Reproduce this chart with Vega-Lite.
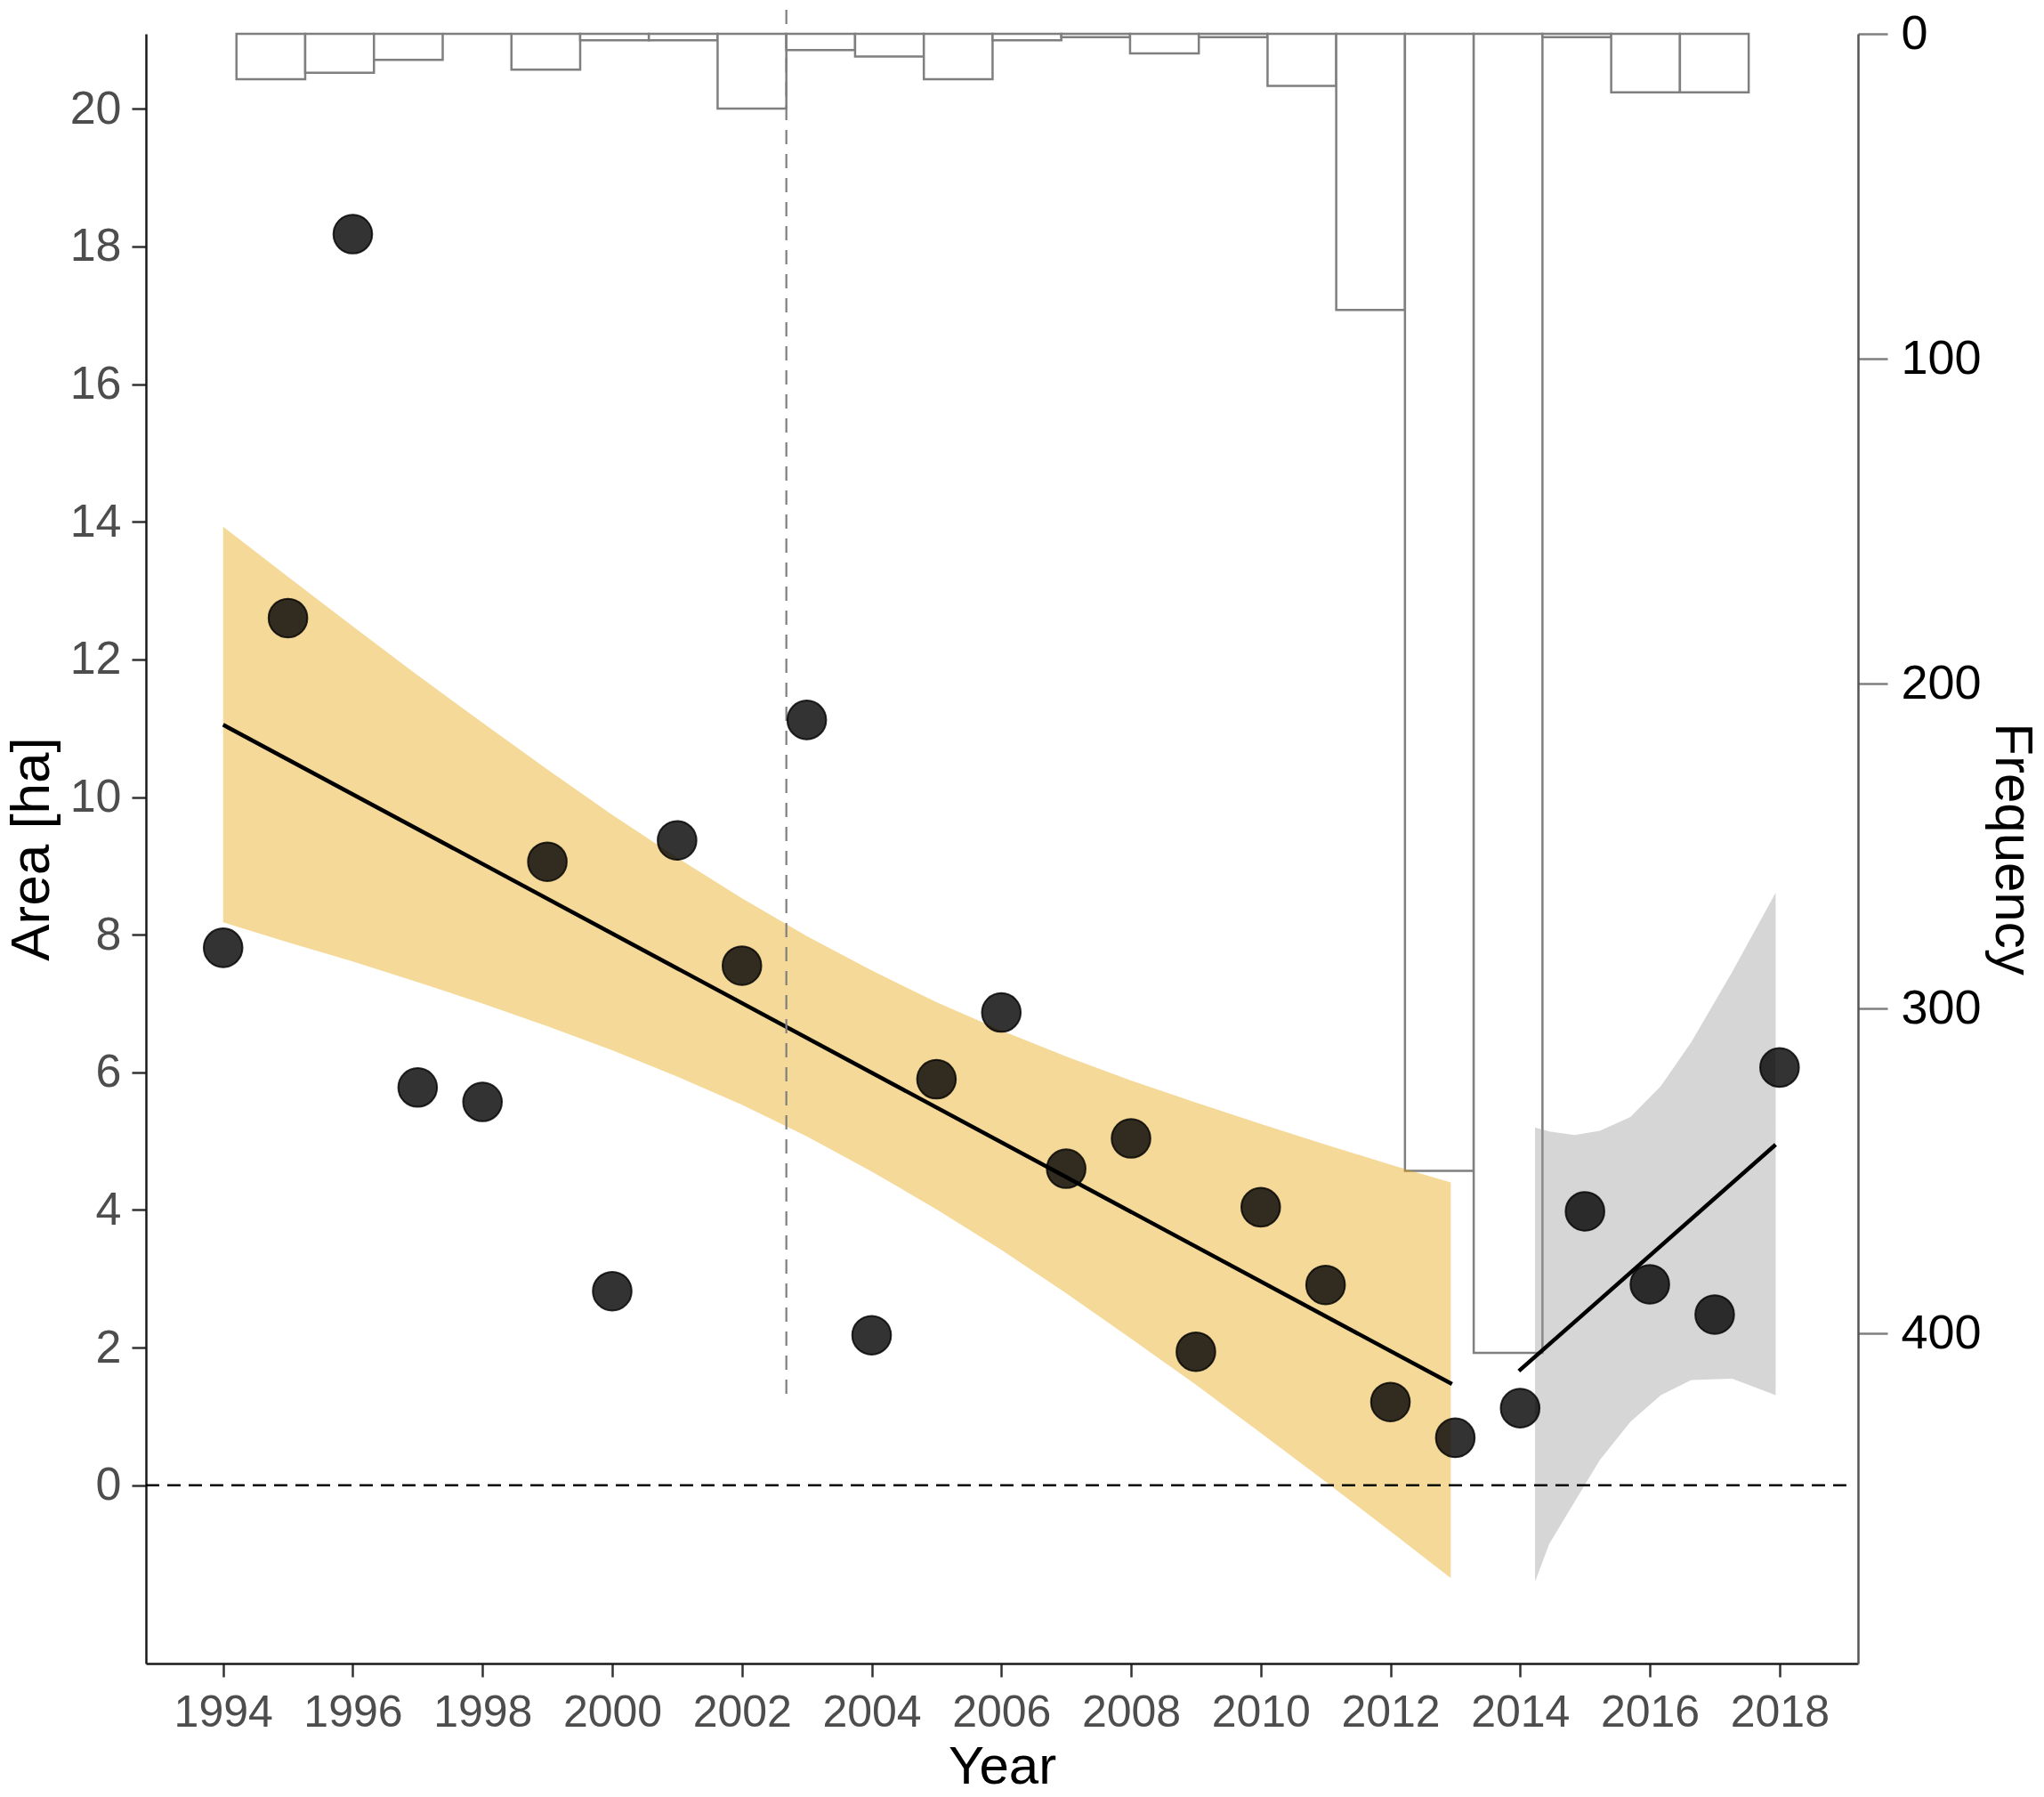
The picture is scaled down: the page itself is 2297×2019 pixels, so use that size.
{
  "$schema": "https://vega.github.io/schema/vega-lite/v6.json",
  "width": 1924,
  "height": 1831,
  "autosize": {"type": "none"},
  "padding": {"left": 164, "top": 38, "right": 209, "bottom": 150},
  "background": "white",
  "datasets": {
    "hist": [
      {"start": 1994.206, "end": 1995.266, "count": 14},
      {"start": 1995.266, "end": 1996.326, "count": 12},
      {"start": 1996.326, "end": 1997.386, "count": 8},
      {"start": 1997.386, "end": 1998.446, "count": 0},
      {"start": 1998.446, "end": 1999.506, "count": 11},
      {"start": 1999.506, "end": 2000.565, "count": 2},
      {"start": 2000.565, "end": 2001.625, "count": 2},
      {"start": 2001.625, "end": 2002.685, "count": 23},
      {"start": 2002.685, "end": 2003.745, "count": 5},
      {"start": 2003.745, "end": 2004.805, "count": 7},
      {"start": 2004.805, "end": 2005.865, "count": 14},
      {"start": 2005.865, "end": 2006.925, "count": 2},
      {"start": 2006.925, "end": 2007.985, "count": 1},
      {"start": 2007.985, "end": 2009.045, "count": 6},
      {"start": 2009.045, "end": 2010.105, "count": 1},
      {"start": 2010.105, "end": 2011.164, "count": 16},
      {"start": 2011.164, "end": 2012.224, "count": 85},
      {"start": 2012.224, "end": 2013.284, "count": 350},
      {"start": 2013.284, "end": 2014.344, "count": 406},
      {"start": 2014.344, "end": 2015.404, "count": 1},
      {"start": 2015.404, "end": 2016.464, "count": 18},
      {"start": 2016.464, "end": 2017.524, "count": 18}
    ],
    "points": [
      {"year": 1994, "area": 7.81},
      {"year": 1995, "area": 12.6},
      {"year": 1996, "area": 18.18},
      {"year": 1997, "area": 5.78},
      {"year": 1998, "area": 5.57},
      {"year": 1999, "area": 9.06},
      {"year": 2000, "area": 2.82},
      {"year": 2001, "area": 9.37},
      {"year": 2002, "area": 7.55},
      {"year": 2003, "area": 11.12},
      {"year": 2004, "area": 2.18},
      {"year": 2005, "area": 5.9},
      {"year": 2006, "area": 6.87},
      {"year": 2007, "area": 4.6},
      {"year": 2008, "area": 5.04},
      {"year": 2009, "area": 1.94},
      {"year": 2010, "area": 4.04},
      {"year": 2011, "area": 2.91},
      {"year": 2012, "area": 1.21},
      {"year": 2013, "area": 0.69},
      {"year": 2014, "area": 1.12},
      {"year": 2015, "area": 3.98},
      {"year": 2016, "area": 2.92},
      {"year": 2017, "area": 2.48},
      {"year": 2018, "area": 6.07}
    ],
    "bands": [
      {"fit": "pre", "year": 1994, "lo": 8.18, "hi": 13.93},
      {"fit": "pre", "year": 1995, "lo": 7.89, "hi": 13.2},
      {"fit": "pre", "year": 1996, "lo": 7.61, "hi": 12.48},
      {"fit": "pre", "year": 1997, "lo": 7.31, "hi": 11.77},
      {"fit": "pre", "year": 1998, "lo": 7.0, "hi": 11.08},
      {"fit": "pre", "year": 1999, "lo": 6.67, "hi": 10.4},
      {"fit": "pre", "year": 2000, "lo": 6.32, "hi": 9.74},
      {"fit": "pre", "year": 2001, "lo": 5.94, "hi": 9.12},
      {"fit": "pre", "year": 2002, "lo": 5.53, "hi": 8.53},
      {"fit": "pre", "year": 2003, "lo": 5.07, "hi": 7.98},
      {"fit": "pre", "year": 2004, "lo": 4.56, "hi": 7.48},
      {"fit": "pre", "year": 2005, "lo": 4.01, "hi": 7.02},
      {"fit": "pre", "year": 2006, "lo": 3.42, "hi": 6.61},
      {"fit": "pre", "year": 2007, "lo": 2.79, "hi": 6.23},
      {"fit": "pre", "year": 2008, "lo": 2.13, "hi": 5.88},
      {"fit": "pre", "year": 2009, "lo": 1.46, "hi": 5.56},
      {"fit": "pre", "year": 2010, "lo": 0.76, "hi": 5.25},
      {"fit": "pre", "year": 2011, "lo": 0.05, "hi": 4.95},
      {"fit": "pre", "year": 2012, "lo": -0.67, "hi": 4.66},
      {"fit": "pre", "year": 2012.93, "lo": -1.35, "hi": 4.4},
      {"fit": "post", "year": 2014.23, "lo": -1.4, "hi": 5.2},
      {"fit": "post", "year": 2014.45, "lo": -0.85, "hi": 5.14},
      {"fit": "post", "year": 2014.84, "lo": -0.24, "hi": 5.09},
      {"fit": "post", "year": 2015.23, "lo": 0.37, "hi": 5.15},
      {"fit": "post", "year": 2015.7, "lo": 0.92, "hi": 5.35},
      {"fit": "post", "year": 2016.17, "lo": 1.31, "hi": 5.8},
      {"fit": "post", "year": 2016.64, "lo": 1.53, "hi": 6.44},
      {"fit": "post", "year": 2017.27, "lo": 1.55, "hi": 7.46},
      {"fit": "post", "year": 2017.94, "lo": 1.31, "hi": 8.61}
    ],
    "fits": [
      {"fit": "pre", "year": 1994, "area": 11.05},
      {"fit": "pre", "year": 2012.95, "area": 1.47},
      {"fit": "post", "year": 2013.98, "area": 1.66},
      {"fit": "post", "year": 2017.94, "area": 4.95}
    ]
  },
  "layer": [
    {
      "data": {"name": "hist"},
      "mark": {"type": "rect", "fill": "white", "stroke": "#7f7f7f", "strokeWidth": 2.5},
      "encoding": {
        "x": {
          "field": "start",
          "type": "quantitative",
          "scale": {"domain": [1992.81, 2019.21], "nice": false, "zero": false},
          "axis": {"title": "Year", "values": [1994, 1996, 1998, 2000, 2002, 2004, 2006, 2008, 2010, 2012, 2014, 2016, 2018], "format": "d"}
        },
        "x2": {"field": "end"},
        "y": {
          "field": "count",
          "type": "quantitative",
          "scale": {"domain": [0, 501.6], "reverse": true, "nice": false},
          "axis": {
            "orient": "right",
            "title": "Frequency",
            "values": [0, 100, 200, 300, 400],
            "tickSize": 33,
            "tickWidth": 2.5,
            "tickColor": "#7f7f7f",
            "domainColor": "#555555",
            "domainWidth": 2.5,
            "labelFontSize": 54,
            "labelColor": "black",
            "labelPadding": 15,
            "titleFontSize": 60,
            "titleFontWeight": "normal",
            "titleColor": "black",
            "titleAngle": 90,
            "titleBaseline": "alphabetic",
            "titleX": 154,
            "titleY": 915.5
          }
        },
        "y2": {"datum": 0}
      }
    },
    {
      "layer": [
        {
          "data": {"name": "bands"},
          "mark": {"type": "area", "opacity": 0.4},
          "encoding": {
            "x": {"field": "year", "type": "quantitative", "scale": {"domain": [1992.81, 2019.21], "nice": false, "zero": false}, "axis": {"title": "Year", "values": [1994, 1996, 1998, 2000, 2002, 2004, 2006, 2008, 2010, 2012, 2014, 2016, 2018], "format": "d"}},
            "y": {"field": "lo", "type": "quantitative", "scale": {"domain": [-2.59, 21.09], "nice": false, "zero": false}, "axis": {"title": "Area [ha]", "values": [0, 2, 4, 6, 8, 10, 12, 14, 16, 18, 20]}},
            "y2": {"field": "hi"},
            "fill": {"field": "fit", "type": "nominal", "scale": {"domain": ["pre", "post"], "range": ["#E69F00", "#999999"]}, "legend": null}
          }
        },
        {
          "data": {"name": "fits"},
          "mark": {"type": "line", "color": "black", "strokeWidth": 4.5},
          "encoding": {
            "x": {"field": "year", "type": "quantitative", "scale": {"domain": [1992.81, 2019.21], "nice": false, "zero": false}, "axis": {"title": "Year", "values": [1994, 1996, 1998, 2000, 2002, 2004, 2006, 2008, 2010, 2012, 2014, 2016, 2018], "format": "d"}},
            "y": {"field": "area", "type": "quantitative", "scale": {"domain": [-2.59, 21.09], "nice": false, "zero": false}, "axis": {"title": "Area [ha]", "values": [0, 2, 4, 6, 8, 10, 12, 14, 16, 18, 20]}},
            "detail": {"field": "fit", "type": "nominal"}
          }
        },
        {
          "data": {"values": [{}]},
          "mark": {"type": "rule", "color": "black", "strokeWidth": 2.5, "strokeDash": [15, 9]},
          "encoding": {
            "x": {"datum": 1992.81, "type": "quantitative", "scale": {"domain": [1992.81, 2019.21], "nice": false, "zero": false}, "axis": {"title": "Year", "values": [1994, 1996, 1998, 2000, 2002, 2004, 2006, 2008, 2010, 2012, 2014, 2016, 2018], "format": "d"}},
            "x2": {"datum": 2019.03},
            "y": {"datum": 0, "type": "quantitative", "scale": {"domain": [-2.59, 21.09], "nice": false, "zero": false}, "axis": {"title": "Area [ha]", "values": [0, 2, 4, 6, 8, 10, 12, 14, 16, 18, 20]}}
          }
        },
        {
          "data": {"values": [{}]},
          "mark": {"type": "rule", "color": "#7f7f7f", "strokeWidth": 2.2, "strokeDash": [16, 11]},
          "encoding": {
            "x": {"datum": 2002.685, "type": "quantitative", "scale": {"domain": [1992.81, 2019.21], "nice": false, "zero": false}, "axis": {"title": "Year", "values": [1994, 1996, 1998, 2000, 2002, 2004, 2006, 2008, 2010, 2012, 2014, 2016, 2018], "format": "d"}},
            "y": {"datum": 1.33, "type": "quantitative", "scale": {"domain": [-2.59, 21.09], "nice": false, "zero": false}, "axis": {"title": "Area [ha]", "values": [0, 2, 4, 6, 8, 10, 12, 14, 16, 18, 20]}},
            "y2": {"datum": 21.58}
          }
        },
        {
          "data": {"name": "points"},
          "mark": {"type": "circle", "size": 1900, "fill": "black", "fillOpacity": 0.8, "stroke": "black", "strokeOpacity": 0.8, "strokeWidth": 2, "opacity": 1},
          "encoding": {
            "x": {"field": "year", "type": "quantitative", "scale": {"domain": [1992.81, 2019.21], "nice": false, "zero": false}, "axis": {"title": "Year", "values": [1994, 1996, 1998, 2000, 2002, 2004, 2006, 2008, 2010, 2012, 2014, 2016, 2018], "format": "d"}},
            "y": {"field": "area", "type": "quantitative", "scale": {"domain": [-2.59, 21.09], "nice": false, "zero": false}, "axis": {"title": "Area [ha]", "values": [0, 2, 4, 6, 8, 10, 12, 14, 16, 18, 20]}}
          }
        }
      ]
    }
  ],
  "resolve": {"scale": {"y": "independent"}, "axis": {"y": "independent"}},
  "config": {
    "font": "Liberation Sans",
    "view": {"stroke": null},
    "axis": {"grid": false, "labelFont": "Liberation Sans", "titleFont": "Liberation Sans", "titleFontWeight": "normal"},
    "axisBottom": {
      "tickSize": 15,
      "tickWidth": 2.5,
      "tickColor": "#333333",
      "domainColor": "#1a1a1a",
      "domainWidth": 2.5,
      "labelFontSize": 50,
      "labelColor": "#4d4d4d",
      "labelPadding": 15,
      "titleFontSize": 60,
      "titleColor": "black",
      "titleBaseline": "alphabetic",
      "titleY": 134
    },
    "axisLeft": {
      "tickSize": 16,
      "tickWidth": 2.5,
      "tickColor": "#333333",
      "domainColor": "#1a1a1a",
      "domainWidth": 2.5,
      "labelFontSize": 52,
      "labelColor": "#4d4d4d",
      "labelPadding": 12,
      "titleFontSize": 62,
      "titleColor": "black",
      "titleAngle": 270,
      "titleBaseline": "alphabetic",
      "titleX": -110,
      "titleY": 915.5
    }
  }
}
